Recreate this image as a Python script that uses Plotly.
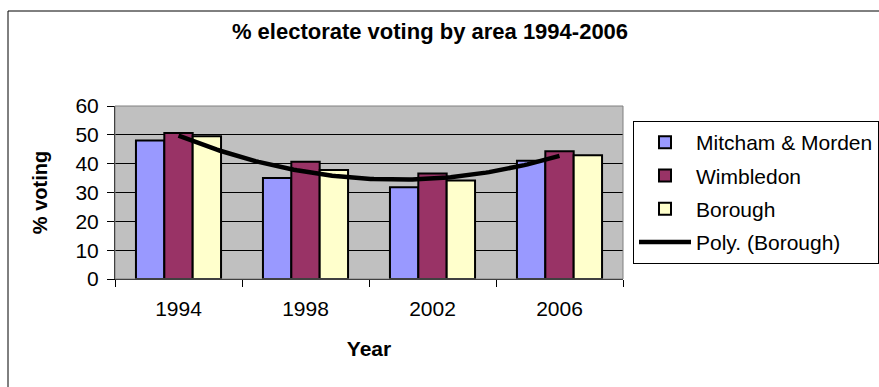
import numpy as np
import plotly.graph_objects as go

# Turnout (% of electorate voting) by area and election year
years = ["1994", "1998", "2002", "2006"]
mitcham_morden = [48.0, 35.0, 31.8, 41.0]
wimbledon = [50.6, 40.7, 36.6, 44.3]
borough = [49.5, 37.8, 34.2, 42.9]

y_ticks = [0, 10, 20, 30, 40, 50, 60]

W, H = 879, 387
ML, MR, MT, MB = 115, 256, 106, 108
PW, PH = W - ML - MR, H - MT - MB


def px_x(px):
    return (px - ML) / PW


def px_y(py):
    return (H - MB - py) / PH


FONT = "Liberation Sans, Arial, sans-serif"

# Second-order polynomial trend of the Borough series (x = category index)
idx = np.arange(len(years))
coef = np.polyfit(idx, borough, 2)
xs = np.linspace(idx[0], idx[-1], 120)
ys = np.polyval(coef, xs)

fig = go.Figure()
series = [
    ("Mitcham & Morden", mitcham_morden, "#9999FF"),
    ("Wimbledon", wimbledon, "#993366"),
    ("Borough", borough, "#FFFFCC"),
]
for name, vals, col in series:
    fig.add_trace(go.Bar(
        x=years, y=vals, name=name, legendgroup=name,
        marker=dict(color=col, line=dict(color="#000000", width=2)),
    ))

fig.add_trace(go.Scatter(
    x=xs, y=ys, xaxis="x2", mode="lines", name="Poly. (Borough)",
    legendgroup="poly", line=dict(color="#000000", width=4.5),
))

fig.update_layout(
    width=W, height=H,
    margin=dict(l=ML, r=MR, t=MT, b=MB),
    paper_bgcolor="#FFFFFF", plot_bgcolor="#C0C0C0",
    font=dict(family=FONT, size=21, color="#000000"),
    barmode="group", bargap=0.33, bargroupgap=0,
    title=dict(
        text="<b>% electorate voting by area 1994-2006</b>",
        x=430 / W, xanchor="center", xref="container",
        y=1 - 31 / H, yanchor="middle", yref="container",
        font=dict(size=22, family=FONT),
    ),
    xaxis=dict(
        type="category", tickson="boundaries", ticks="outside", ticklen=7,
        tickcolor="#000000", showline=True, linecolor="#000000", linewidth=1,
        showgrid=False, mirror=False, ticklabelstandoff=11,
        title=dict(text="<b>Year</b>", font=dict(size=21), standoff=22),
        range=[-0.5, 3.5], automargin=False,
    ),
    xaxis2=dict(overlaying="x", range=[-0.5, 3.5], visible=False),
    yaxis=dict(
        range=[0, 60], tickvals=y_ticks, ticks="outside", ticklen=7,
        tickcolor="#000000", showline=True, linecolor="#000000", linewidth=1,
        showgrid=True, gridcolor="#000000", gridwidth=1, zeroline=False,
        ticklabelstandoff=4,
        title=dict(text="<b>% voting</b>", font=dict(size=20), standoff=22),
        automargin=False,
    ),
    legend=dict(
        xref="container", yref="container",
        x=633 / W, xanchor="left", y=1 - 121 / H, yanchor="top",
        bgcolor="#FFFFFF", bordercolor="#000000", borderwidth=1,
        font=dict(size=21), tracegroupgap=3, itemwidth=52,
        traceorder="grouped",
    ),
    shapes=[
        # chart frame
        dict(type="rect", xref="paper", yref="paper",
             x0=px_x(8), x1=px_x(W + 20), y0=px_y(H + 20), y1=px_y(11),
             line=dict(color="#000000", width=1), layer="below"),
        # plot area border (top and right edges)
        dict(type="rect", xref="paper", yref="paper", x0=0, x1=1, y0=0, y1=1,
             line=dict(color="#808080", width=1)),
    ],
)

fig.write_html("out.html")
